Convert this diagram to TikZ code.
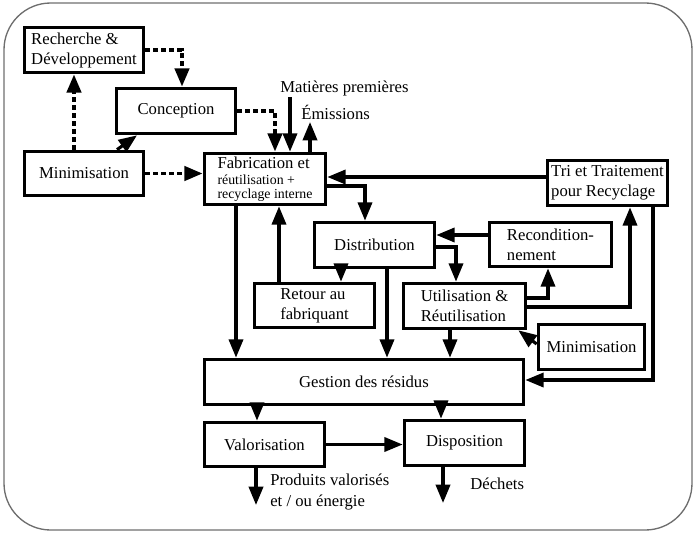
\documentclass[tikz,border=0pt]{standalone}
\usepackage{fontspec}
\setmainfont{Liberation Serif}
\usepackage{tikz}
\usetikzlibrary{arrows.meta,calc}
\definecolor{framegray}{RGB}{110,110,110}
\newcommand{\petit}{\fontsize{8.3}{9}\selectfont}
\tikzset{
    box/.style={draw=black, line width=2.2pt, fill=white, align=left, inner sep=1pt, minimum width=72pt, minimum height=27pt, font=\fontsize{10}{12}\selectfont},
    txt/.style={align=left, inner sep=0pt, anchor=west, font=\fontsize{10}{12.6}\selectfont},
    arrow/.style={-{Triangle[length=11pt,width=8.5pt]}, line width=1.9pt},
    dots/.style={arrow, dash pattern=on 3pt off 1.8pt, line width=2.3pt},
    frameline/.style={draw=framegray, line width=0.8pt, rounded corners=28pt}
}

\begin{document}
\begin{tikzpicture}[x=0.6pt, y=-0.6pt]
\useasboundingbox (0,0) rectangle (697,532);
\draw[frameline] (4,3) rectangle (692,530);
\node[box, minimum width=71.4pt] (rd) at (84,50) {Recherche \&\\Développement};
\node[box, minimum width=71.4pt] (concep) at (176,111) {Conception};
\node[box, minimum width=71.4pt, minimum height=26.4pt] (minig) at (84,173.5) {Minimisation};
\node[box, minimum width=72.6pt, minimum height=30.6pt, font=\fontsize{10}{9.6}\selectfont] (fab) at (265,179) {Fabrication et\\{\petit réutilisation +}\\[-1.5pt]{\petit recyclage interne}};
\node[box] (tri) at (607.5,183) {Tri et Traitement\\pour Recyclage};
\node[box] (distr) at (374.5,245) {Distribution};
\node[box, minimum width=73.2pt, minimum height=26.4pt] (recond) at (550.5,244.5) {Recondition-\\nement};
\node[box, minimum height=26.4pt] (retour) at (314.5,305.5) {Retour au\\fabriquant};
\node[box, minimum width=73.2pt] (util) at (464.5,306) {Utilisation \&\\Réutilisation};
\node[box, minimum width=63.6pt] (minid) at (591.5,347) {Minimisation};
\node[box, minimum width=191.4pt] (gest) at (364,382) {Gestion des résidus};
\node[box, minimum height=26.4pt] (valo) at (264.5,444.5) {Valorisation};
\node[box] (dispo) at (464.5,443) {Disposition};
\node[txt] (mp) at (280,88) {Matières premières};
\node[txt] (emi) at (301,112) {Émissions};
\node[txt] (prod) at (270,492) {Produits valorisés\\et / ou énergie};
\node[txt] (dech) at (470,484) {Déchets};
\coordinate (mpbas) at (290,97);
\coordinate (emihaut) at (310,122);
\coordinate (valobas) at (256,505);
\coordinate (dispobas) at (443,503);
\draw[dots] (rd.east) -| ($(concep.north)+(6,0)$);
\draw[dots] ($(minig.north)+(-10,0)$) -- ($(rd.south)+(-10,0)$);
\draw[dots] (concep.east) -| ($(fab.north)+(10,0)$);
\draw[dots] (minig.east) -- (minig.east -| fab.west);
\draw[arrow] ($(minig.north)+(33,0)$) -- ($(concep.south)+(-39,0)$);
\draw[arrow] (mpbas) -- (mpbas |- fab.north);
\draw[arrow] (emihaut |- fab.north) -- (emihaut);
\draw[arrow] ($(tri.west)+(0,-6)$) -- ($(fab.east)+(0,-2)$);
\draw[arrow] ($(fab.east)+(0,7)$) -| ($(distr.north)+(-9.5,0)$);
\draw[arrow] ($(recond.west)+(0,-9.5)$) -- ($(distr.east)+(0,-10)$);
\draw[arrow] ($(distr.east)+(0,2)$) -| ($(util.north)+(-8.5,0)$);
\draw[arrow] ($(util.east)+(0,-8)$) -| ($(recond.south)+(-2.5,0)$);
\draw[arrow] ($(util.east)+(0,1)$) -| ($(tri.south)+(22.5,0)$);
\draw[arrow] ($(tri.south)+(45.5,0)$) |- ($(gest.east)+(0,-2)$);
\draw[arrow] ($(minid.west)+(0,-3)$) -- ($(util.south east)+(-9,0)$);
\draw[arrow] ($(distr.south)+(-33.5,0)$) -- ($(retour.north)+(26.5,0)$);
\draw[arrow] ($(retour.north)+(-35.5,0)$) -- ($(fab.south)+(14,0)$);
\draw[arrow] ($(fab.south)+(-29,0)$) -- ($(gest.north)+(-128,0)$);
\draw[arrow] ($(distr.south)+(12.5,0)$) -- ($(gest.north)+(23,0)$);
\draw[arrow] ($(util.south)+(-14.5,0)$) -- ($(gest.north)+(86,0)$);
\draw[arrow] ($(gest.south)+(-107,0)$) -- ($(valo.north)+(-7.5,0)$);
\draw[arrow] ($(gest.south)+(77,0)$) -- ($(dispo.north)+(-23.5,0)$);
\draw[arrow] (valo.east) -- (valo.east -| dispo.west);
\draw[arrow] (valobas |- valo.south) -- (valobas);
\draw[arrow] (dispobas |- dispo.south) -- (dispobas);
\end{tikzpicture}
\end{document}
